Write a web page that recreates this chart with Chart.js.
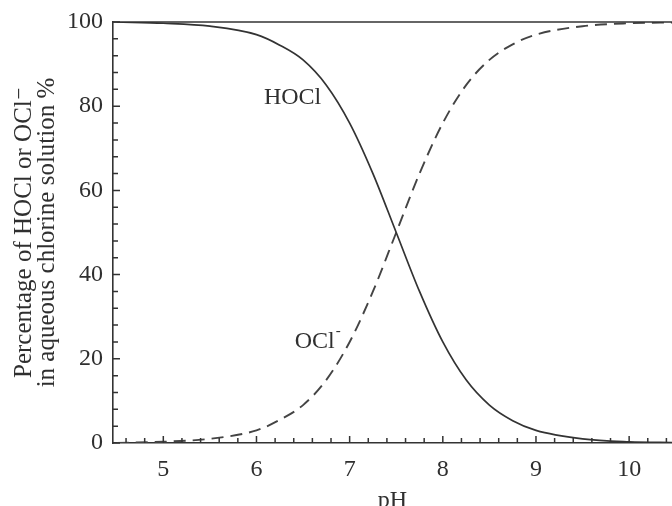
<!DOCTYPE html>
<html>
<head>
<meta charset="utf-8">
<script src="https://cdn.jsdelivr.net/npm/chart.js@4/dist/chart.umd.min.js"></script>
<style>
  html, body { margin: 0; padding: 0; background: #fff; }
  #wrap { width: 672px; height: 506px; }
</style>
</head>
<body>
<div id="wrap"><canvas id="chart" width="672" height="506"></canvas></div>
<script>
// values
var pH = [4.5, 5.0, 5.5, 6.0, 6.25, 6.5, 6.75, 7.0, 7.25, 7.5, 7.75, 8.0, 8.25, 8.5, 8.75, 9.0, 9.5, 10.0, 10.5];
var hocl = [100, 99.7, 99, 97, 94.5, 91, 85, 76, 64, 50, 36, 24, 15, 9, 5.3, 3, 1, 0.3, 0.1];
var ocl = [0, 0.3, 1, 3, 5.5, 9, 15, 24, 36, 50, 64, 76, 85, 91, 94.7, 97, 99, 99.7, 99.9];

var xTicks = [5, 6, 7, 8, 9, 10];
var yTicks = [0, 20, 40, 60, 80, 100];

// curve labels, in data units (left edge, middle)
var curveLabels = [
    { text: "HOCl", sup: "", x: 6.08, y: 82 },
    { text: "OCl", sup: "-", x: 6.41, y: 24 }
];

var ink = "#2f2f2f";
var lineInk = "#333";
var serif = "'Liberation Serif', 'DejaVu Serif', serif";

function points(xs, ys) {
    return xs.map(function(x, i) { return { x: x, y: ys[i] }; });
}

// inward tick marks, top border and the curve labels
var frame = {
    id: "frame",
    afterDraw: function(chart) {
        var ctx = chart.ctx;
        var area = chart.chartArea;
        var xs = chart.scales.x;
        var ys = chart.scales.y;

        ctx.save();
        ctx.strokeStyle = lineInk;
        ctx.lineWidth = 1.6;

        ctx.beginPath();
        ctx.moveTo(area.left, area.top);
        ctx.lineTo(area.right, area.top);
        ctx.stroke();

        ctx.lineWidth = 1.5;
        ctx.beginPath();
        for (var v = 0; v <= 100.01; v += 4) {
            var py = ys.getPixelForValue(v);
            var len = (Math.round(v) % 20 === 0) ? 7 : 5;
            ctx.moveTo(area.left, py);
            ctx.lineTo(area.left + len, py);
        }
        for (var k = 23; k <= 52; k++) {
            var xv = k / 5;
            var px = xs.getPixelForValue(xv);
            if (px < area.left || px > area.right) continue;
            var l2 = (k % 5 === 0) ? 7 : 5;
            ctx.moveTo(px, area.bottom);
            ctx.lineTo(px, area.bottom - l2);
        }
        ctx.stroke();

        ctx.fillStyle = ink;
        ctx.textBaseline = "middle";
        ctx.textAlign = "left";
        curveLabels.forEach(function(c) {
            var lx = xs.getPixelForValue(c.x);
            var ly = ys.getPixelForValue(c.y);
            ctx.font = "24px " + serif;
            ctx.fillText(c.text, lx, ly);
            if (c.sup) {
                var w = ctx.measureText(c.text).width;
                ctx.font = "15px " + serif;
                ctx.fillText(c.sup, lx + w + 1, ly - 11);
            }
        });
        ctx.restore();
    }
};

new Chart(document.getElementById("chart"), {
    type: "line",
    data: {
        datasets: [
            {
                label: "HOCl",
                data: points(pH, hocl),
                borderColor: lineInk,
                borderWidth: 1.7,
                pointRadius: 0,
                cubicInterpolationMode: "monotone",
                fill: false
            },
            {
                label: "OCl-",
                data: points(pH, ocl),
                borderColor: "#444",
                borderWidth: 1.9,
                borderDash: [12, 7],
                pointRadius: 0,
                cubicInterpolationMode: "monotone",
                fill: false
            }
        ]
    },
    options: {
        responsive: false,
        animation: false,
        layout: { padding: { top: 22, right: 0, bottom: 0, left: 0 } },
        plugins: {
            legend: { display: false },
            tooltip: { enabled: false }
        },
        scales: {
            x: {
                type: "linear",
                min: 4.46,
                max: 10.46,
                afterBuildTicks: function(scale) {
                    scale.ticks = xTicks.map(function(v) { return { value: v }; });
                },
                afterFit: function(scale) {
                    scale.height = 63;
                    scale.paddingLeft = 0;
                    scale.paddingRight = 0;
                },
                grid: { display: false, drawTicks: false },
                border: { display: true, color: lineInk, width: 1.6 },
                ticks: {
                    padding: 12,
                    color: ink,
                    font: { family: serif, size: 24 },
                    maxRotation: 0,
                    autoSkip: false
                },
                title: {
                    display: true,
                    text: "pH",
                    color: ink,
                    font: { family: serif, size: 24 },
                    padding: { top: 0, bottom: -9 }
                }
            },
            y: {
                min: 0,
                max: 100,
                afterBuildTicks: function(scale) {
                    scale.ticks = yTicks.map(function(v) { return { value: v }; });
                },
                afterFit: function(scale) {
                    scale.width = 113;
                    scale.paddingTop = 0;
                    scale.paddingBottom = 0;
                },
                grid: { display: false, drawTicks: false },
                border: { display: true, color: lineInk, width: 1.6 },
                ticks: {
                    padding: 10,
                    color: ink,
                    font: { family: serif, size: 24 }
                },
                title: {
                    display: true,
                    text: ["Percentage of HOCl or OCl\u207B", "in aqueous chlorine solution %"],
                    color: ink,
                    font: { family: serif, size: 25, lineHeight: "23px" },
                    padding: { top: 13, bottom: 0 }
                }
            }
        }
    },
    plugins: [frame]
});
</script>
</body>
</html>
